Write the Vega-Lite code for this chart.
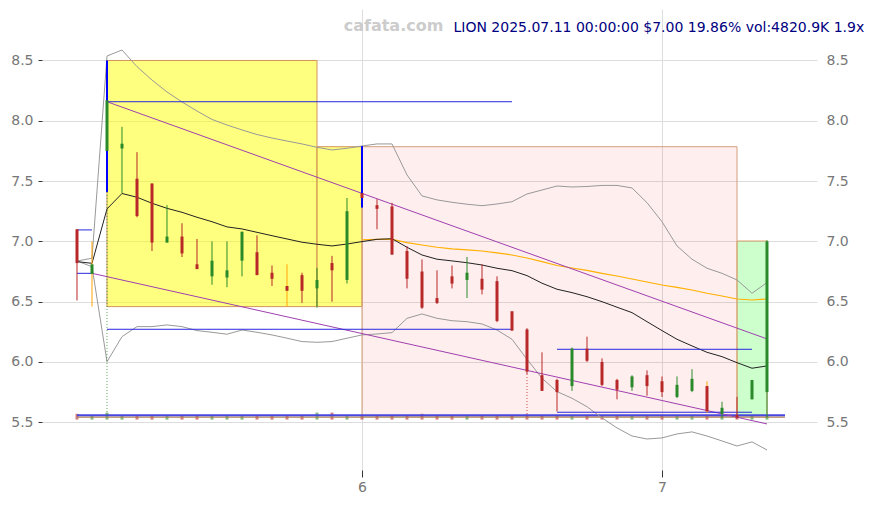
{
"$schema": "https://vega.github.io/schema/vega-lite/v6.json",
"width": 775, "height": 461,
"autosize": "none",
"padding": {"left": 42, "top": 9, "right": 57, "bottom": 35},
"background": "white",
"config": {"view": {"stroke": null}, "font": "DejaVu Sans"},
"title": {"text": "LION 2025.07.11 00:00:00 $7.00 19.86% vol:4820.9K 1.9x", "anchor": "end", "orient": "top", "offset": -26, "dx": 16, "fontSize": 14, "fontWeight": "normal", "color": "#000080", "font": "DejaVu Sans"},
"datasets": {
"boxes": [
{"zone": "a", "i": 2, "i2": 16, "v": 8.5, "v2": 6.459},
{"zone": "a", "i": 16, "i2": 19, "v": 7.785, "v2": 6.459},
{"zone": "b", "i": 19, "i2": 44, "v": 7.785, "v2": 5.552},
{"zone": "c", "i": 44, "i2": 46, "v": 7.003, "v2": 5.552}
],
"candles": [
{"i":0,"o":7.10,"h":7.10,"l":6.51,"c":6.82,"t":"down","d":"down","vb":5.522,"vt":5.57},
{"i":1,"o":6.73,"h":7.00,"l":6.46,"c":6.81,"t":"event","d":"up","vb":5.522,"vt":5.561},
{"i":2,"o":7.75,"h":8.50,"l":7.41,"c":8.17,"t":"gap","d":"up","vb":5.522,"vt":5.58},
{"i":3,"o":7.77,"h":7.95,"l":7.40,"c":7.81,"t":"up","d":"up","vb":5.522,"vt":5.561},
{"i":4,"o":7.52,"h":7.74,"l":7.20,"c":7.21,"t":"down","d":"down","vb":5.522,"vt":5.561},
{"i":5,"o":7.48,"h":7.48,"l":6.92,"c":6.99,"t":"down","d":"down","vb":5.522,"vt":5.561},
{"i":6,"o":6.99,"h":7.30,"l":6.99,"c":7.04,"t":"up","d":"up","vb":5.522,"vt":5.561},
{"i":7,"o":7.04,"h":7.15,"l":6.87,"c":6.90,"t":"down","d":"down","vb":5.522,"vt":5.561},
{"i":8,"o":6.81,"h":7.02,"l":6.77,"c":6.77,"t":"down","d":"down","vb":5.522,"vt":5.561},
{"i":9,"o":6.71,"h":7.00,"l":6.64,"c":6.84,"t":"up","d":"up","vb":5.522,"vt":5.561},
{"i":10,"o":6.70,"h":7.00,"l":6.62,"c":6.76,"t":"up","d":"up","vb":5.522,"vt":5.561},
{"i":11,"o":6.84,"h":7.08,"l":6.71,"c":7.08,"t":"up","d":"up","vb":5.522,"vt":5.561},
{"i":12,"o":6.91,"h":7.05,"l":6.72,"c":6.72,"t":"down","d":"down","vb":5.522,"vt":5.561},
{"i":13,"o":6.74,"h":6.80,"l":6.63,"c":6.69,"t":"down","d":"down","vb":5.522,"vt":5.561},
{"i":14,"o":6.63,"h":6.81,"l":6.46,"c":6.59,"t":"event","d":"down","vb":5.522,"vt":5.561},
{"i":15,"o":6.72,"h":6.74,"l":6.49,"c":6.59,"t":"down","d":"down","vb":5.522,"vt":5.561},
{"i":16,"o":6.61,"h":6.78,"l":6.45,"c":6.68,"t":"up","d":"up","vb":5.522,"vt":5.58},
{"i":17,"o":6.82,"h":6.88,"l":6.50,"c":6.76,"t":"down","d":"down","vb":5.522,"vt":5.58},
{"i":18,"o":6.68,"h":7.36,"l":6.65,"c":7.25,"t":"up","d":"up","vb":5.522,"vt":5.561},
{"i":19,"o":7.40,"h":7.79,"l":7.28,"c":7.36,"t":"gap","d":"down","vb":5.522,"vt":5.561},
{"i":20,"o":7.30,"h":7.35,"l":7.10,"c":7.27,"t":"down","d":"down","vb":5.522,"vt":5.561},
{"i":21,"o":7.29,"h":7.32,"l":6.89,"c":6.89,"t":"down","d":"down","vb":5.522,"vt":5.561},
{"i":22,"o":6.92,"h":6.96,"l":6.61,"c":6.69,"t":"down","d":"down","vb":5.522,"vt":5.561},
{"i":23,"o":6.75,"h":6.85,"l":6.44,"c":6.45,"t":"down","d":"down","vb":5.522,"vt":5.57},
{"i":24,"o":6.53,"h":6.76,"l":6.48,"c":6.49,"t":"down","d":"down","vb":5.522,"vt":5.561},
{"i":25,"o":6.71,"h":6.80,"l":6.61,"c":6.65,"t":"down","d":"down","vb":5.522,"vt":5.561},
{"i":26,"o":6.68,"h":6.87,"l":6.53,"c":6.74,"t":"up","d":"up","vb":5.522,"vt":5.561},
{"i":27,"o":6.69,"h":6.81,"l":6.56,"c":6.60,"t":"down","d":"down","vb":5.522,"vt":5.561},
{"i":28,"o":6.67,"h":6.71,"l":6.33,"c":6.34,"t":"down","d":"down","vb":5.522,"vt":5.561},
{"i":29,"o":6.42,"h":6.42,"l":6.26,"c":6.26,"t":"down","d":"down","vb":5.522,"vt":5.561},
{"i":30,"o":6.27,"h":6.28,"l":5.90,"c":5.92,"t":"down","d":"down","vb":5.522,"vt":5.565},
{"i":31,"o":5.89,"h":6.08,"l":5.76,"c":5.76,"t":"down","d":"down","vb":5.522,"vt":5.561},
{"i":32,"o":5.85,"h":5.86,"l":5.59,"c":5.75,"t":"down","d":"down","vb":5.522,"vt":5.561},
{"i":33,"o":5.80,"h":6.12,"l":5.76,"c":6.11,"t":"up","d":"up","vb":5.522,"vt":5.561},
{"i":34,"o":6.11,"h":6.21,"l":6.00,"c":6.01,"t":"down","d":"down","vb":5.522,"vt":5.561},
{"i":35,"o":6.00,"h":6.03,"l":5.80,"c":5.81,"t":"down","d":"down","vb":5.522,"vt":5.561},
{"i":36,"o":5.85,"h":5.86,"l":5.69,"c":5.77,"t":"down","d":"down","vb":5.522,"vt":5.561},
{"i":37,"o":5.79,"h":5.89,"l":5.76,"c":5.88,"t":"up","d":"up","vb":5.522,"vt":5.561},
{"i":38,"o":5.89,"h":5.93,"l":5.72,"c":5.80,"t":"down","d":"down","vb":5.522,"vt":5.561},
{"i":39,"o":5.84,"h":5.88,"l":5.71,"c":5.75,"t":"down","d":"down","vb":5.522,"vt":5.561},
{"i":40,"o":5.71,"h":5.88,"l":5.70,"c":5.81,"t":"up","d":"up","vb":5.522,"vt":5.561},
{"i":41,"o":5.76,"h":5.94,"l":5.75,"c":5.86,"t":"up","d":"up","vb":5.522,"vt":5.561},
{"i":42,"o":5.80,"h":5.84,"l":5.58,"c":5.59,"t":"event","d":"down","vb":5.522,"vt":5.561},
{"i":43,"o":5.57,"h":5.67,"l":5.54,"c":5.62,"t":"up","d":"up","vb":5.522,"vt":5.561},
{"i":44,"o":5.56,"h":5.71,"l":5.53,"c":5.54,"t":"down","d":"down","vb":5.522,"vt":5.561},
{"i":45,"o":5.69,"h":5.85,"l":5.69,"c":5.85,"t":"up","d":"up","vb":5.522,"vt":5.561},
{"i":46,"o":5.75,"h":7.01,"l":5.54,"c":7.00,"t":"up","d":"up","vb":5.522,"vt":5.561}
],
"lines": [
{"s":"bbu","i":0,"v":6.837},{"s":"bbu","i":1,"v":6.860},{"s":"bbu","i":2,"v":8.537},{"s":"bbu","i":3,"v":8.587},{"s":"bbu","i":4,"v":8.449},{"s":"bbu","i":5,"v":8.338},{"s":"bbu","i":6,"v":8.239},{"s":"bbu","i":7,"v":8.156},{"s":"bbu","i":8,"v":8.081},{"s":"bbu","i":9,"v":8.011},{"s":"bbu","i":10,"v":7.965},{"s":"bbu","i":11,"v":7.924},{"s":"bbu","i":12,"v":7.886},{"s":"bbu","i":13,"v":7.857},{"s":"bbu","i":14,"v":7.832},{"s":"bbu","i":15,"v":7.808},{"s":"bbu","i":16,"v":7.780},{"s":"bbu","i":17,"v":7.758},{"s":"bbu","i":18,"v":7.772},{"s":"bbu","i":19,"v":7.791},{"s":"bbu","i":20,"v":7.808},{"s":"bbu","i":21,"v":7.808},{"s":"bbu","i":22,"v":7.551},{"s":"bbu","i":23,"v":7.377},{"s":"bbu","i":24,"v":7.344},{"s":"bbu","i":25,"v":7.324},{"s":"bbu","i":26,"v":7.308},{"s":"bbu","i":27,"v":7.296},{"s":"bbu","i":28,"v":7.310},{"s":"bbu","i":29,"v":7.329},{"s":"bbu","i":30,"v":7.393},{"s":"bbu","i":31,"v":7.426},{"s":"bbu","i":32,"v":7.459},{"s":"bbu","i":33,"v":7.451},{"s":"bbu","i":34,"v":7.455},{"s":"bbu","i":35,"v":7.464},{"s":"bbu","i":36,"v":7.464},{"s":"bbu","i":37,"v":7.443},{"s":"bbu","i":38,"v":7.321},{"s":"bbu","i":39,"v":7.163},{"s":"bbu","i":40,"v":6.962},{"s":"bbu","i":41,"v":6.852},{"s":"bbu","i":42,"v":6.777},{"s":"bbu","i":43,"v":6.735},{"s":"bbu","i":44,"v":6.680},{"s":"bbu","i":45,"v":6.570},{"s":"bbu","i":46,"v":6.658},
{"s":"bbl","i":0,"v":6.837},{"s":"bbl","i":1,"v":6.790},{"s":"bbl","i":2,"v":6.002},{"s":"bbl","i":3,"v":6.210},{"s":"bbl","i":4,"v":6.293},{"s":"bbl","i":5,"v":6.293},{"s":"bbl","i":6,"v":6.307},{"s":"bbl","i":7,"v":6.293},{"s":"bbl","i":8,"v":6.260},{"s":"bbl","i":9,"v":6.246},{"s":"bbl","i":10,"v":6.230},{"s":"bbl","i":11,"v":6.265},{"s":"bbl","i":12,"v":6.246},{"s":"bbl","i":13,"v":6.224},{"s":"bbl","i":14,"v":6.197},{"s":"bbl","i":15,"v":6.169},{"s":"bbl","i":16,"v":6.163},{"s":"bbl","i":17,"v":6.169},{"s":"bbl","i":18,"v":6.197},{"s":"bbl","i":19,"v":6.224},{"s":"bbl","i":20,"v":6.232},{"s":"bbl","i":21,"v":6.243},{"s":"bbl","i":22,"v":6.362},{"s":"bbl","i":23,"v":6.398},{"s":"bbl","i":24,"v":6.362},{"s":"bbl","i":25,"v":6.342},{"s":"bbl","i":26,"v":6.334},{"s":"bbl","i":27,"v":6.315},{"s":"bbl","i":28,"v":6.265},{"s":"bbl","i":29,"v":6.188},{"s":"bbl","i":30,"v":6.022},{"s":"bbl","i":31,"v":5.865},{"s":"bbl","i":32,"v":5.754},{"s":"bbl","i":33,"v":5.699},{"s":"bbl","i":34,"v":5.629},{"s":"bbl","i":35,"v":5.536},{"s":"bbl","i":36,"v":5.453},{"s":"bbl","i":37,"v":5.386},{"s":"bbl","i":38,"v":5.361},{"s":"bbl","i":39,"v":5.370},{"s":"bbl","i":40,"v":5.403},{"s":"bbl","i":41,"v":5.420},{"s":"bbl","i":42,"v":5.386},{"s":"bbl","i":43,"v":5.345},{"s":"bbl","i":44,"v":5.303},{"s":"bbl","i":45,"v":5.337},{"s":"bbl","i":46,"v":5.270},
{"s":"ma","i":0,"v":6.832},{"s":"ma","i":1,"v":6.818},{"s":"ma","i":2,"v":7.269},{"s":"ma","i":3,"v":7.397},{"s":"ma","i":4,"v":7.366},{"s":"ma","i":5,"v":7.316},{"s":"ma","i":6,"v":7.274},{"s":"ma","i":7,"v":7.241},{"s":"ma","i":8,"v":7.200},{"s":"ma","i":9,"v":7.163},{"s":"ma","i":10,"v":7.120},{"s":"ma","i":11,"v":7.103},{"s":"ma","i":12,"v":7.075},{"s":"ma","i":13,"v":7.047},{"s":"ma","i":14,"v":7.020},{"s":"ma","i":15,"v":6.993},{"s":"ma","i":16,"v":6.976},{"s":"ma","i":17,"v":6.962},{"s":"ma","i":18,"v":6.978},{"s":"ma","i":19,"v":6.998},{"s":"ma","i":20,"v":7.017},{"s":"ma","i":21,"v":7.022},{"s":"ma","i":22,"v":6.951},{"s":"ma","i":23,"v":6.887},{"s":"ma","i":24,"v":6.852},{"s":"ma","i":25,"v":6.838},{"s":"ma","i":26,"v":6.823},{"s":"ma","i":27,"v":6.804},{"s":"ma","i":28,"v":6.777},{"s":"ma","i":29,"v":6.757},{"s":"ma","i":30,"v":6.716},{"s":"ma","i":31,"v":6.653},{"s":"ma","i":32,"v":6.603},{"s":"ma","i":33,"v":6.575},{"s":"ma","i":34,"v":6.541},{"s":"ma","i":35,"v":6.500},{"s":"ma","i":36,"v":6.454},{"s":"ma","i":37,"v":6.409},{"s":"ma","i":38,"v":6.334},{"s":"ma","i":39,"v":6.260},{"s":"ma","i":40,"v":6.188},{"s":"ma","i":41,"v":6.133},{"s":"ma","i":42,"v":6.080},{"s":"ma","i":43,"v":6.044},{"s":"ma","i":44,"v":5.994},{"s":"ma","i":45,"v":5.948},{"s":"ma","i":46,"v":5.967},
{"s":"ma2","i":19,"v":7.012},{"s":"ma2","i":20,"v":7.016},{"s":"ma2","i":21,"v":7.017},{"s":"ma2","i":22,"v":6.989},{"s":"ma2","i":23,"v":6.970},{"s":"ma2","i":24,"v":6.951},{"s":"ma2","i":25,"v":6.937},{"s":"ma2","i":26,"v":6.929},{"s":"ma2","i":27,"v":6.920},{"s":"ma2","i":28,"v":6.904},{"s":"ma2","i":29,"v":6.887},{"s":"ma2","i":30,"v":6.862},{"s":"ma2","i":31,"v":6.832},{"s":"ma2","i":32,"v":6.800},{"s":"ma2","i":33,"v":6.779},{"s":"ma2","i":34,"v":6.759},{"s":"ma2","i":35,"v":6.734},{"s":"ma2","i":36,"v":6.713},{"s":"ma2","i":37,"v":6.688},{"s":"ma2","i":38,"v":6.663},{"s":"ma2","i":39,"v":6.638},{"s":"ma2","i":40,"v":6.618},{"s":"ma2","i":41,"v":6.597},{"s":"ma2","i":42,"v":6.570},{"s":"ma2","i":43,"v":6.547},{"s":"ma2","i":44,"v":6.522},{"s":"ma2","i":45,"v":6.514},{"s":"ma2","i":46,"v":6.522},
{"s":"t1","i":2,"v":8.158},{"s":"t1","i":46,"v":6.191},
{"s":"t2","i":1,"v":6.735},{"s":"t2","i":46,"v":5.486}
],
"hsegs": [
{"k":"lvl","i":0,"i2":1,"v":7.095},
{"k":"lvl","i":0,"i2":1,"v":6.735},
{"k":"lvl","i":2,"i2":29,"v":8.158},
{"k":"lvl","i":2,"i2":29,"v":6.271},
{"k":"lvl","i":32,"i2":45,"v":6.105},
{"k":"lvl","i":32,"i2":45,"v":5.583},
{"k":"b1","i":0,"i2":47.2,"v":5.557},
{"k":"b2","i":0,"i2":47.2,"v":5.543}
],
"dots": [
{"i":2,"v":7.41,"v2":5.55,"d":"up"},
{"i":30,"v":5.90,"v2":5.55,"d":"down"}
]
},
"resolve": {"axis": {"y": "independent"}},
"layer": [
{"data": {"name": "boxes"}, "transform": [{"filter": "datum.zone == 'a'"}],
 "mark": {"type": "rect", "fill": "#ffff00", "fillOpacity": 0.5, "stroke": "#d4955a", "strokeWidth": 1},
 "encoding": {
  "x": {"field": "i", "type": "quantitative", "scale": {"domain": [-2.3333, 49.3333], "nice": false, "zero": false, "padding": 0},
        "axis": {"orient": "bottom", "values": [19, 39], "labelExpr": "datum.value == 19 ? '6' : '7'", "grid": true, "gridColor": "#dddddd", "domain": false, "tickColor": "#333333", "tickSize": 7, "labelColor": "#777777", "labelFontSize": 14, "labelPadding": 3, "title": null, "labelFont": "DejaVu Sans"}},
  "x2": {"field": "i2"},
  "y": {"field": "v", "type": "quantitative", "scale": {"domain": [5.104, 8.927], "nice": false, "zero": false, "padding": 0},
        "axis": {"orient": "left", "values": [5.5, 6, 6.5, 7, 7.5, 8, 8.5], "format": ".1f", "grid": true, "gridColor": "#dddddd", "domain": false, "tickColor": "#333333", "tickSize": 4, "labelColor": "#777777", "labelFontSize": 14, "labelPadding": 5, "title": null, "labelFont": "DejaVu Sans"}},
  "y2": {"field": "v2"}
 }},
{"data": {"name": "boxes"}, "transform": [{"filter": "datum.zone == 'b'"}],
 "mark": {"type": "rect", "fill": "#ff0000", "fillOpacity": 0.065, "stroke": "#d4a07a", "strokeWidth": 1},
 "encoding": {
  "x": {"field": "i", "type": "quantitative",
        "axis": {"orient": "top", "labels": false, "ticks": false, "domain": false, "grid": false, "title": "cafata.com", "titleColor": "#cccccc", "titleFontSize": 16, "titleFontWeight": "bold", "titleFont": "DejaVu Sans", "titleAnchor": "start", "titleAlign": "center", "titleBaseline": "middle", "titleX": 351, "titleY": 16, "titleAngle": 0}},
  "x2": {"field": "i2"},
  "y": {"field": "v", "type": "quantitative",
        "axis": {"orient": "right", "values": [5.5, 6, 6.5, 7, 7.5, 8, 8.5], "format": ".1f", "grid": false, "domain": false, "ticks": false, "labelColor": "#777777", "labelFontSize": 14, "labelPadding": 9, "title": null, "labelFont": "DejaVu Sans"}},
  "y2": {"field": "v2"}
 }},
{"data": {"name": "boxes"}, "transform": [{"filter": "datum.zone == 'c'"}],
 "mark": {"type": "rect", "fill": "#00ff00", "fillOpacity": 0.2, "stroke": "#e0a070", "strokeWidth": 1},
 "encoding": {"x": {"field": "i", "type": "quantitative", "axis": null}, "x2": {"field": "i2"}, "y": {"field": "v", "type": "quantitative", "axis": null}, "y2": {"field": "v2"}}},
{"data": {"name": "candles"},
 "mark": {"type": "bar", "size": 3, "opacity": 0.6},
 "encoding": {
  "x": {"field": "i", "type": "quantitative", "axis": null},
  "y": {"field": "vb", "type": "quantitative", "axis": null},
  "y2": {"field": "vt"},
  "fill": {"field": "d", "type": "nominal", "scale": {"domain": ["up", "down"], "range": ["#2a8a2a", "#b82828"]}, "legend": null}
 }},
{"data": {"name": "hsegs"}, "transform": [{"filter": "datum.k == 'b2'"}],
 "mark": {"type": "rule", "color": "#b08050", "strokeWidth": 1.2},
 "encoding": {"x": {"field": "i", "type": "quantitative", "axis": null}, "x2": {"field": "i2"}, "y": {"field": "v", "type": "quantitative", "axis": null}}},
{"data": {"name": "hsegs"}, "transform": [{"filter": "datum.k == 'b1'"}],
 "mark": {"type": "rule", "color": "#4848e0", "strokeWidth": 2},
 "encoding": {"x": {"field": "i", "type": "quantitative", "axis": null}, "x2": {"field": "i2"}, "y": {"field": "v", "type": "quantitative", "axis": null}}},
{"data": {"name": "lines"}, "transform": [{"filter": "datum.s == 'bbu' || datum.s == 'bbl'"}],
 "mark": {"type": "line", "color": "#999999", "strokeWidth": 1},
 "encoding": {"x": {"field": "i", "type": "quantitative", "axis": null}, "y": {"field": "v", "type": "quantitative", "axis": null}, "detail": {"field": "s"}}},
{"data": {"name": "lines"}, "transform": [{"filter": "datum.s == 'ma2'"}],
 "mark": {"type": "line", "color": "#ffb000", "strokeWidth": 1.2},
 "encoding": {"x": {"field": "i", "type": "quantitative", "axis": null}, "y": {"field": "v", "type": "quantitative", "axis": null}}},
{"data": {"name": "lines"}, "transform": [{"filter": "datum.s == 'ma'"}],
 "mark": {"type": "line", "color": "#222222", "strokeWidth": 1},
 "encoding": {"x": {"field": "i", "type": "quantitative", "axis": null}, "y": {"field": "v", "type": "quantitative", "axis": null}}},
{"data": {"name": "lines"}, "transform": [{"filter": "datum.s == 't1' || datum.s == 't2'"}],
 "mark": {"type": "line", "color": "#a040b0", "strokeWidth": 1},
 "encoding": {"x": {"field": "i", "type": "quantitative", "axis": null}, "y": {"field": "v", "type": "quantitative", "axis": null}, "detail": {"field": "s"}}},
{"data": {"name": "hsegs"}, "transform": [{"filter": "datum.k == 'lvl'"}],
 "mark": {"type": "rule", "color": "#2828e0", "strokeWidth": 1},
 "encoding": {"x": {"field": "i", "type": "quantitative", "axis": null}, "x2": {"field": "i2"}, "y": {"field": "v", "type": "quantitative", "axis": null}}},
{"data": {"name": "dots"},
 "mark": {"type": "rule", "strokeWidth": 1, "strokeDash": [1, 2], "opacity": 0.8},
 "encoding": {
  "x": {"field": "i", "type": "quantitative", "axis": null},
  "y": {"field": "v", "type": "quantitative", "axis": null},
  "y2": {"field": "v2"},
  "stroke": {"field": "d", "type": "nominal", "scale": {"domain": ["up", "down", "event"], "range": ["#2a8a2a", "#b82828", "#ffa500"]}, "legend": null}
 }},
{"data": {"name": "candles"}, "transform": [{"filter": "datum.t != 'gap'"}],
 "mark": {"type": "rule", "strokeWidth": 1},
 "encoding": {
  "x": {"field": "i", "type": "quantitative", "axis": null},
  "y": {"field": "l", "type": "quantitative", "axis": null},
  "y2": {"field": "h"},
  "stroke": {"field": "t", "type": "nominal", "scale": {"domain": ["up", "down", "event"], "range": ["#2a8a2a", "#b82828", "#ffa500"]}, "legend": null}
 }},
{"data": {"name": "candles"}, "transform": [{"filter": "datum.t == 'gap'"}],
 "mark": {"type": "rule", "strokeWidth": 2, "color": "#0000ff"},
 "encoding": {
  "x": {"field": "i", "type": "quantitative", "axis": null},
  "y": {"field": "l", "type": "quantitative", "axis": null},
  "y2": {"field": "h"}
 }},
{"data": {"name": "candles"},
 "mark": {"type": "bar", "size": 3},
 "encoding": {
  "x": {"field": "i", "type": "quantitative", "axis": null},
  "y": {"field": "o", "type": "quantitative", "axis": null},
  "y2": {"field": "c"},
  "fill": {"field": "d", "type": "nominal", "scale": {"domain": ["up", "down"], "range": ["#2a8a2a", "#b82828"]}, "legend": null}
 }}
]
}
